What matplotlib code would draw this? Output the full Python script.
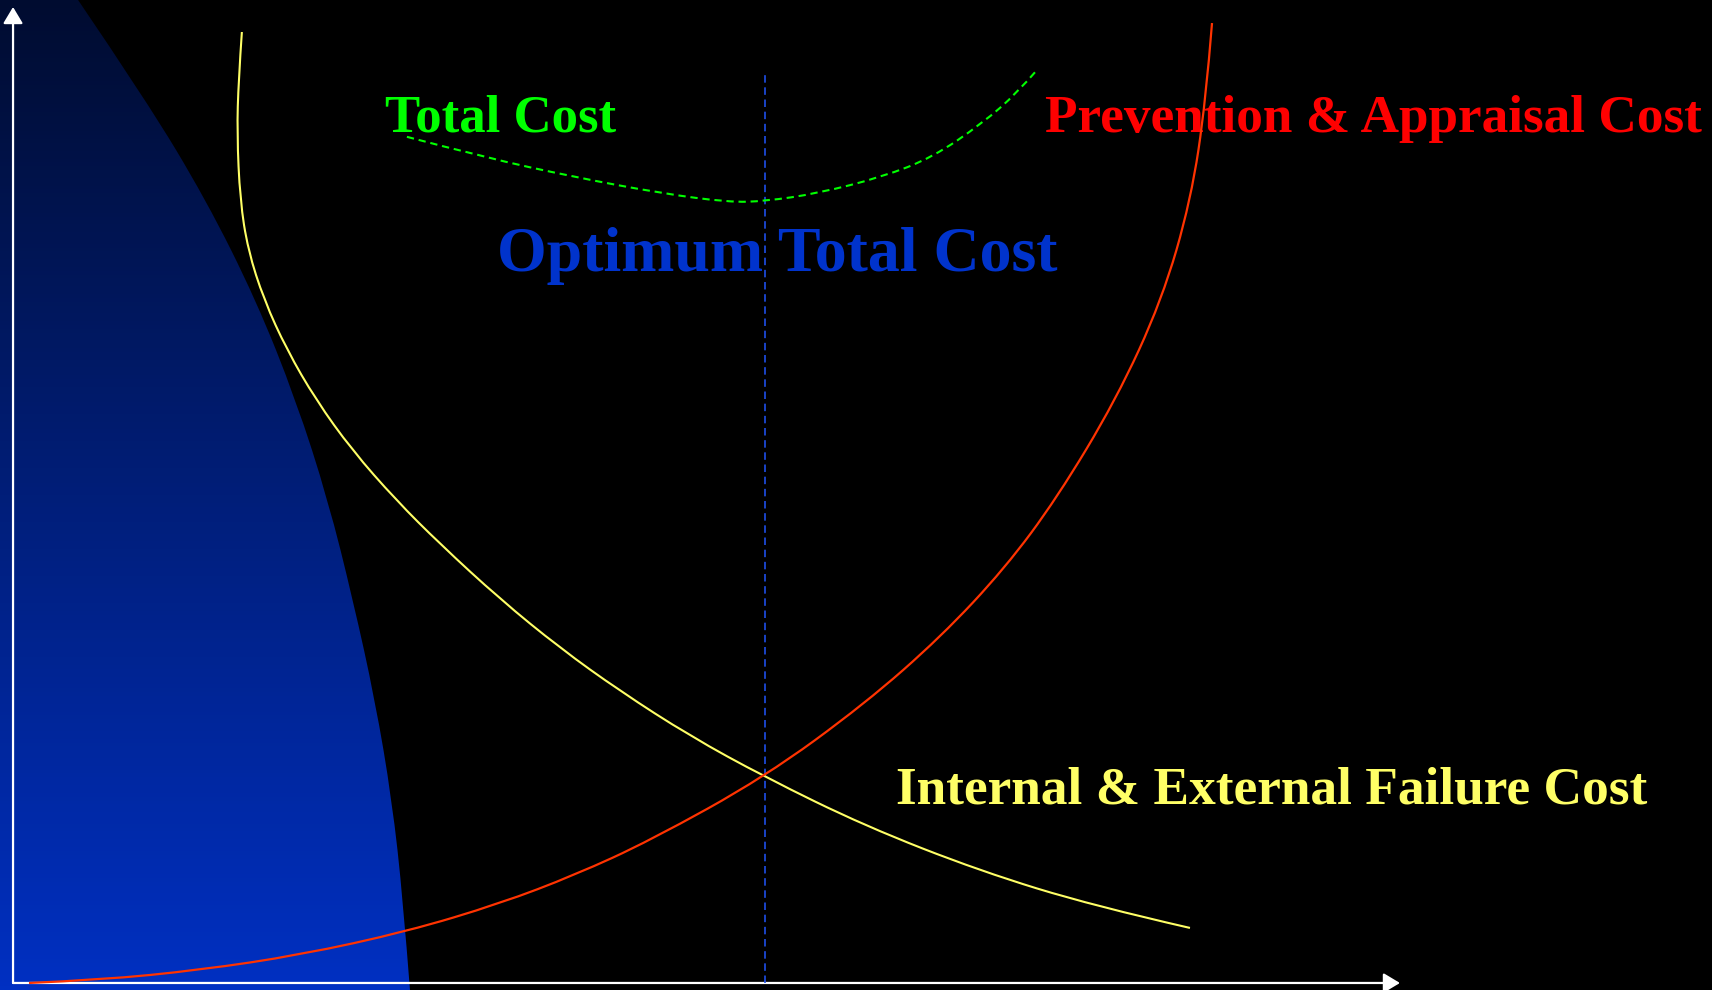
import matplotlib.pyplot as plt
import numpy as np
from matplotlib.path import Path
from matplotlib.patches import PathPatch
from matplotlib.colors import LinearSegmentedColormap

# Cost of quality model: quality level (x) against cost (y), both on a 0-100 scale
failure_x = [16.5, 16.26, 16.15, 16.37, 16.94, 18.1, 19.75, 21.85, 24.44, 27.61, 30.79,
             35.11, 39.44, 43.76, 48.81, 54.2, 61.43, 69.72, 77.94, 84.86]
failure_y = [97.44, 92.52, 87.09, 80.23, 75.1, 69.98, 64.86, 59.73, 54.61, 49.49, 44.98,
             39.34, 34.32, 29.92, 25.31, 21.11, 16.09, 11.48, 7.89, 5.64]

prevention_x = [1.15, 6.27, 13.48, 20.69, 28.41, 35.11, 40.52, 45.93, 54.2, 61.43, 66.91,
                71.52, 75.27, 79.52, 82.84, 84.93, 86.01, 86.45]
prevention_y = [0.0, 0.31, 1.33, 2.87, 5.28, 8.14, 11.07, 14.59, 21.11, 28.63, 35.48,
                42.5, 49.69, 59.73, 69.98, 80.23, 90.47, 98.36]

total_x = [28.4, 34.0, 40.4, 46.8, 51.6, 54.2, 58.0, 62.7, 66.3, 69.9, 72.4, 73.8]
total_y = [86.7, 84.6, 82.6, 80.9, 80.0, 80.1, 80.9, 82.6, 84.6, 88.1, 91.2, 93.5]

optimum_x = 54.2
optimum_top = 93.4

# right-hand edge of the shaded zone on the left
zone_edge_x = [4.69, 9.59, 13.92, 17.52, 20.4, 22.71, 24.51, 26.1, 27.32, 28.12, 28.62]
zone_edge_y = [100.72, 90.47, 80.23, 69.98, 59.73, 49.49, 39.24, 28.99, 18.75, 8.5, -0.72]


def smooth_path(xs, ys):
    # quadratic Bezier through the midpoints, using the points as control points
    pts = list(zip(xs, ys))
    verts, codes = [pts[0]], [Path.MOVETO]
    for i in range(1, len(pts) - 1):
        if i < len(pts) - 2:
            end = ((pts[i][0] + pts[i + 1][0]) / 2, (pts[i][1] + pts[i + 1][1]) / 2)
        else:
            end = pts[-1]
        verts += [pts[i], end]
        codes += [Path.CURVE3, Path.CURVE3]
    return verts, codes


fig = plt.figure(figsize=(17.12, 9.90), dpi=100, facecolor='black')
ax = fig.add_axes([0, 0, 1, 1])
ax.set_facecolor('black')
xlim = (-0.94, 122.5)
ylim = (-0.72, 100.72)

# shaded zone: vertical blue gradient clipped to the zone outline
grad = np.linspace(0, 1, 256).reshape(-1, 1)
cmap = LinearSegmentedColormap.from_list('zone', ['#0030c2', '#000c30'])
im = ax.imshow(grad, extent=(xlim[0], xlim[1], ylim[0], ylim[1]), origin='lower',
               cmap=cmap, aspect='auto', zorder=0)
verts, codes = smooth_path(zone_edge_x, zone_edge_y)
verts += [(xlim[0], ylim[0]), (xlim[0], ylim[1]), verts[0]]
codes += [Path.LINETO, Path.LINETO, Path.CLOSEPOLY]
zone = PathPatch(Path(verts, codes), facecolor='none', edgecolor='none')
ax.add_patch(zone)
im.set_clip_path(zone)

ax.set_xlim(*xlim)
ax.set_ylim(*ylim)
ax.axis('off')

# axes drawn as white arrows
arrow = dict(arrowstyle='-|>,head_length=0.5,head_width=0.3', color='white', lw=1.6,
             shrinkA=0, shrinkB=0, mutation_scale=20)
ax.annotate('', xy=(100, 0), xytext=(0, 0), arrowprops=arrow, zorder=1)
ax.annotate('', xy=(0, 100), xytext=(0, 0), arrowprops=arrow, zorder=1)

# labels
serif = 'Liberation Serif'
ax.text(26.8, 87.2, 'Total Cost', color='#00ff00', fontsize=38, fontweight='bold',
        family=serif, va='baseline', zorder=2)
ax.text(74.4, 87.2, 'Prevention & Appraisal Cost', color='#ff0000', fontsize=38.3,
        fontweight='bold', family=serif, va='baseline', zorder=2)
ax.text(34.9, 72.95, 'Optimum Total Cost', color='#0033cc', fontsize=46,
        fontweight='bold', family=serif, va='baseline', zorder=2)
ax.text(63.7, 18.4, 'Internal & External Failure Cost', color='#ffff66', fontsize=38.4,
        fontweight='bold', family=serif, va='baseline', zorder=2)

# optimum marker
ax.plot([optimum_x, optimum_x], [0, optimum_top], color='#1f4fe8', lw=1.2,
        dashes=(4.5, 2.8), zorder=3)

# cost curves
curves = [
    (failure_x, failure_y, '#ffff66', 1.5, 'solid'),
    (prevention_x, prevention_y, '#ff3300', 1.6, 'solid'),
    (total_x, total_y, '#00ff00', 1.5, (0, (3.5, 2.3))),
]
for xs, ys, color, lw, style in curves:
    v, c = smooth_path(xs, ys)
    ax.add_patch(PathPatch(Path(v, c), facecolor='none', edgecolor=color, lw=lw,
                           linestyle=style, capstyle='butt', zorder=4))

fig.savefig('out.png', dpi=100, facecolor='black')
